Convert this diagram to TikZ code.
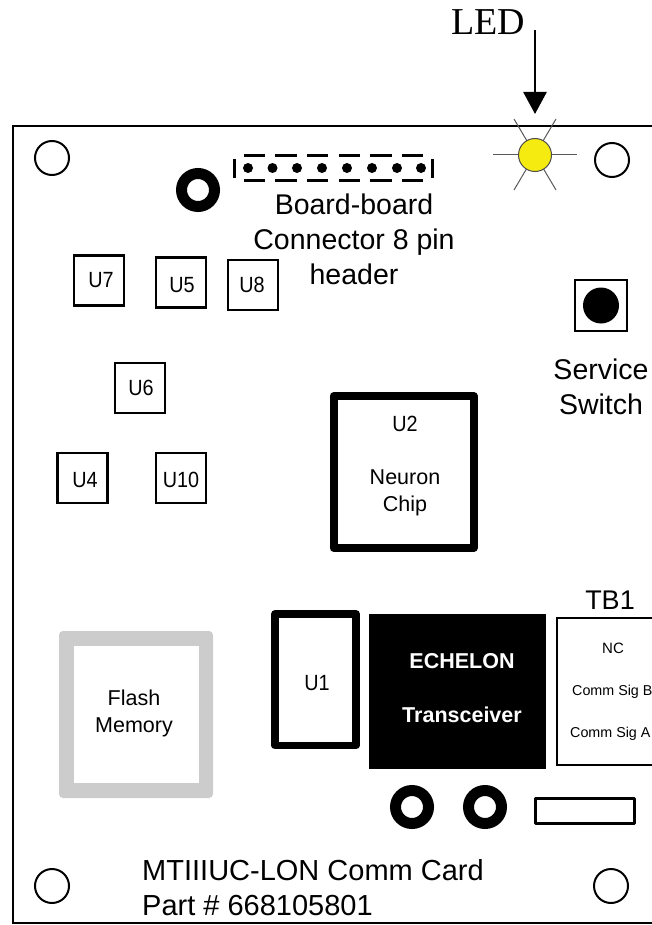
\documentclass[tikz,border=0pt]{standalone}
\usepackage{fontspec}
\setmainfont{Liberation Sans}
\newfontfamily\ledfont{Liberation Serif}
\newfontfamily\ufont[FakeStretch=0.9]{Liberation Sans}
\usetikzlibrary{arrows.meta}
\definecolor{ledyellow}{HTML}{F5EB10}
\definecolor{flashgray}{HTML}{CCCCCC}
\tikzset{
  ubox/.style={draw,rectangle,line width=2.3,minimum size=50,inner sep=0,outer sep=0},
  ulabel/.style={inner sep=0,font=\ufont\fontsize{22}{26}\selectfont},
  hole/.style={draw,circle,line width=2,minimum size=34,inner sep=0,outer sep=0},
  ring/.style={draw,circle,line width=11,minimum size=33,inner sep=0,outer sep=0},
  bigtext/.style={align=center,inner sep=0,font=\fontsize{28.5}{35}\selectfont},
  cardstyle/.style={align=left,anchor=west,inner sep=0,font=\fontsize{29}{35}\selectfont},
  midtext/.style={align=center,inner sep=0,font=\fontsize{21.5}{27}\selectfont},
  tbtext/.style={anchor=west,inner sep=0,font=\fontsize{14.3}{17}\selectfont},
  whitetext/.style={text=white,inner sep=0,font=\fontsize{21.5}{25}\selectfont\bfseries},
  ray/.style={draw=black!65,line width=1}
}
\begin{document}
\begin{tikzpicture}[x=1pt,y=-1pt]
\useasboundingbox (0,0) rectangle (652,925);

% board outline, runs off the right side
\draw[line width=2.3] (652,126) -- (13,126) -- (13,923) -- (652,923);

% mounting holes
\node[hole] (hole1) at (52,158) {};
\node[hole] (hole2) at (612,160) {};
\node[hole] (hole3) at (52,886) {};
\node[hole] (hole4) at (611,886) {};

% LED
\node[inner sep=0,font=\ledfont\fontsize{38}{40}\selectfont] (ledlabel) at (488,22) {LED};
\coordinate (ledtop) at (535,30);
\coordinate (ledtip) at (535,114);
\draw[line width=2.7,-{Triangle[length=22pt,width=23pt]}] (ledtop) -- (ledtip);
\draw[ray] (493,155) -- (577,155);
\draw[ray] (514,119) -- (556,190);
\draw[ray] (556,119) -- (514,190);
\node[draw=black!70,fill=ledyellow,circle,line width=1,minimum size=33,inner sep=0] (led) at (535,155) {};

% header
\node[ring] (ring1) at (198,190) {};
\draw[line width=3] (234,159) -- (234,178);
\draw[line width=3] (432,159) -- (432,178);
\draw[line width=3] (244,156) -- (265,156);
\draw[line width=3] (275,156) -- (297,156);
\draw[line width=3] (307,156) -- (328,156);
\draw[line width=3] (339,156) -- (360,156);
\draw[line width=3] (370,156) -- (392,156);
\draw[line width=3] (402,156) -- (423,156);
\draw[line width=3] (244,181) -- (265,181);
\draw[line width=3] (275,181) -- (297,181);
\draw[line width=3] (307,181) -- (328,181);
\draw[line width=3] (339,181) -- (360,181);
\draw[line width=3] (370,181) -- (392,181);
\draw[line width=3] (402,181) -- (423,181);
\fill (248,168) circle (5);
\fill (272.5,168) circle (5);
\fill (297,168) circle (5);
\fill (322,168) circle (5);
\fill (347,168) circle (5);
\fill (372,168) circle (5);
\fill (397,168) circle (5);
\fill (421,168) circle (5);
\node[bigtext] (headertext) at (354,239) {Board-board\\Connector 8 pin\\header};

% small chips
\node[ubox,label={[ulabel,xshift=2]center:U7}] (u7) at (99,280.5) {};
\node[ubox,label={[ulabel,xshift=1,yshift=-2.5]center:U5}] (u5) at (181,282.5) {};
\node[ubox,label={[ulabel,xshift=-1]center:U8}] (u8) at (253,285) {};
\node[ubox,label={[ulabel,xshift=1]center:U6}] (u6) at (140,388) {};
\node[ubox,label={[ulabel,xshift=2.5,yshift=-2]center:U4}] (u4) at (82.5,478) {};
\node[ubox,label={[ulabel,yshift=-2]center:U10}] (u10) at (181,478) {};

% service switch
\node[draw,rectangle,line width=2.3,minimum width=52,minimum height=51,inner sep=0] (switch) at (601,305.5) {};
\node[fill,circle,minimum size=36,inner sep=0] (switchdot) at (601,305.5) {};
\node[bigtext] (switchtext) at (601,386.5) {Service\\Switch};

% neuron chip
\node[draw,rectangle,line join=round,line width=8,minimum width=140,minimum height=152,inner sep=0] (u2) at (403.5,472) {};
\node[ulabel] (u2text) at (405,424) {U2};
\node[midtext] (neurontext) at (405,493) {Neuron\\Chip};

% flash
\node[fill=flashgray,rectangle,rounded corners=4,minimum width=154,minimum height=167,inner sep=0] (flash) at (136,714.5) {};
\node[fill=white,rectangle,minimum width=125,minimum height=137,inner sep=0] (flashinner) at (136.5,714.5) {};
\node[midtext] (flashtext) at (134,713.5) {Flash\\Memory};

% U1 and transceiver
\node[draw,rectangle,line join=round,line width=7.5,minimum width=81,minimum height=131.5,inner sep=0] (u1) at (315.5,679.75) {};
\node[ulabel] (u1text) at (317,683) {U1};
\node[fill,rectangle,minimum width=177,minimum height=155,inner sep=0] (echelon) at (457.5,691.5) {};
\node[whitetext] (echelontext) at (462,661) {ECHELON};
\node[whitetext] (transtext) at (462,715) {Transceiver};

% TB1, runs off the right side
\draw[line width=2] (652,618) -- (556.5,618) -- (556.5,765) -- (652,765);
\node[inner sep=0,font=\fontsize{27}{30}\selectfont] (tb1) at (610,600.5) {TB1};
\node[inner sep=0,font=\fontsize{15}{18}\selectfont] (nc) at (613,648) {NC};
\node[tbtext] (sigb) at (572,692) {Comm Sig B};
\node[tbtext] (siga) at (570,734) {Comm Sig A};

% bottom parts
\node[ring] (ring2) at (412,807) {};
\node[ring] (ring3) at (485,807) {};
\node[draw,rectangle,line join=round,line width=3.5,minimum width=99,minimum height=25,inner sep=0] (slot) at (585,811) {};
\node[cardstyle] (cardtext) at (142,887.5) {MTIIIUC-LON Comm Card\\Part \# 668105801};
\end{tikzpicture}
\end{document}
